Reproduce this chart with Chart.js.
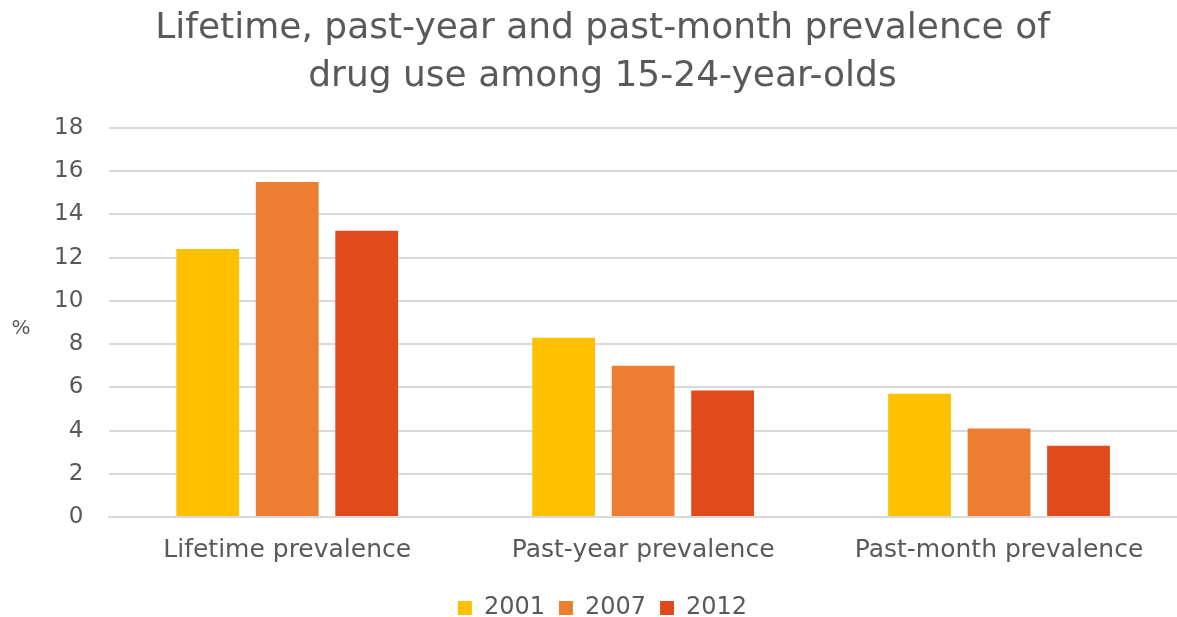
<!DOCTYPE html>
<html>
<head>
<meta charset="utf-8">
<script src="https://cdn.jsdelivr.net/npm/chart.js@4"></script>
<style>
  html, body { margin: 0; padding: 0; background: #fff; }
  #wrap { width: 1177px; height: 617px; }
</style>
</head>
<body>
<div id="wrap"><canvas id="drugChart"></canvas></div>
<script>
// categories and series
const categories = ['Lifetime prevalence', 'Past-year prevalence', 'Past-month prevalence'];
const years = ['2001', '2007', '2012'];
const values2001 = [12.4, 8.3, 5.7];
const values2007 = [15.5, 7.0, 4.1];
const values2012 = [13.25, 5.85, 3.3];
const colors = ['#FFC000', '#ED7D31', '#E14B1C'];

const grey = '#595959';
const font = 'DejaVu Sans';

// the "%" axis label sits upright left of the ticks, so draw it ourselves
const percentLabel = {
    id: 'percentLabel',
    afterDraw(chart) {
        const c = chart.ctx;
        const area = chart.chartArea;
        c.save();
        c.fillStyle = grey;
        c.font = '20px "' + font + '"';
        c.textAlign = 'center';
        c.textBaseline = 'middle';
        c.fillText('%', 21, (area.top + area.bottom) / 2 + 6);
        c.restore();
    }
};

// nudge the legend a little lower than its box
const legendNudge = {
    id: 'legendNudge',
    afterLayout(chart) {
        chart.legend.top += 13;
        chart.legend.bottom += 13;
    }
};

const ctx = document.getElementById('drugChart').getContext('2d');

new Chart(ctx, {
    type: 'bar',
    data: {
        labels: categories,
        datasets: [values2001, values2007, values2012].map(function(vals, i) {
            return {
                label: years[i],
                data: vals,
                backgroundColor: colors[i],
                barPercentage: 0.79,
                categoryPercentage: 0.67
            };
        })
    },
    options: {
        responsive: true,
        maintainAspectRatio: false,
        animation: false,
        layout: { padding: { left: 28, right: 0, top: 0, bottom: 0 } },
        plugins: {
            title: {
                display: true,
                text: ['Lifetime, past-year and past-month prevalence of', 'drug use among 15-24-year-olds'],
                color: grey,
                font: { family: font, size: 36, weight: 'normal', lineHeight: 1.32 },
                padding: { top: 5, bottom: 28 }
            },
            legend: {
                position: 'bottom',
                labels: {
                    color: grey,
                    font: { family: font, size: 24 },
                    boxWidth: 14,
                    boxHeight: 14,
                    padding: 14
                }
            },
            tooltip: { enabled: false }
        },
        scales: {
            x: {
                grid: { display: false, drawTicks: false },
                border: { color: '#d9d9d9', width: 2 },
                ticks: { color: grey, font: { family: font, size: 25 }, padding: 18 },
                afterFit(scale) { scale.height = 52; }
            },
            y: {
                min: 0,
                max: 18,
                ticks: { stepSize: 2, color: grey, font: { family: font, size: 23 }, padding: 26 },
                grid: { color: '#d9d9d9', lineWidth: 2, drawTicks: false },
                border: { display: false }
            }
        }
    },
    plugins: [percentLabel, legendNudge]
});
</script>
</body>
</html>
